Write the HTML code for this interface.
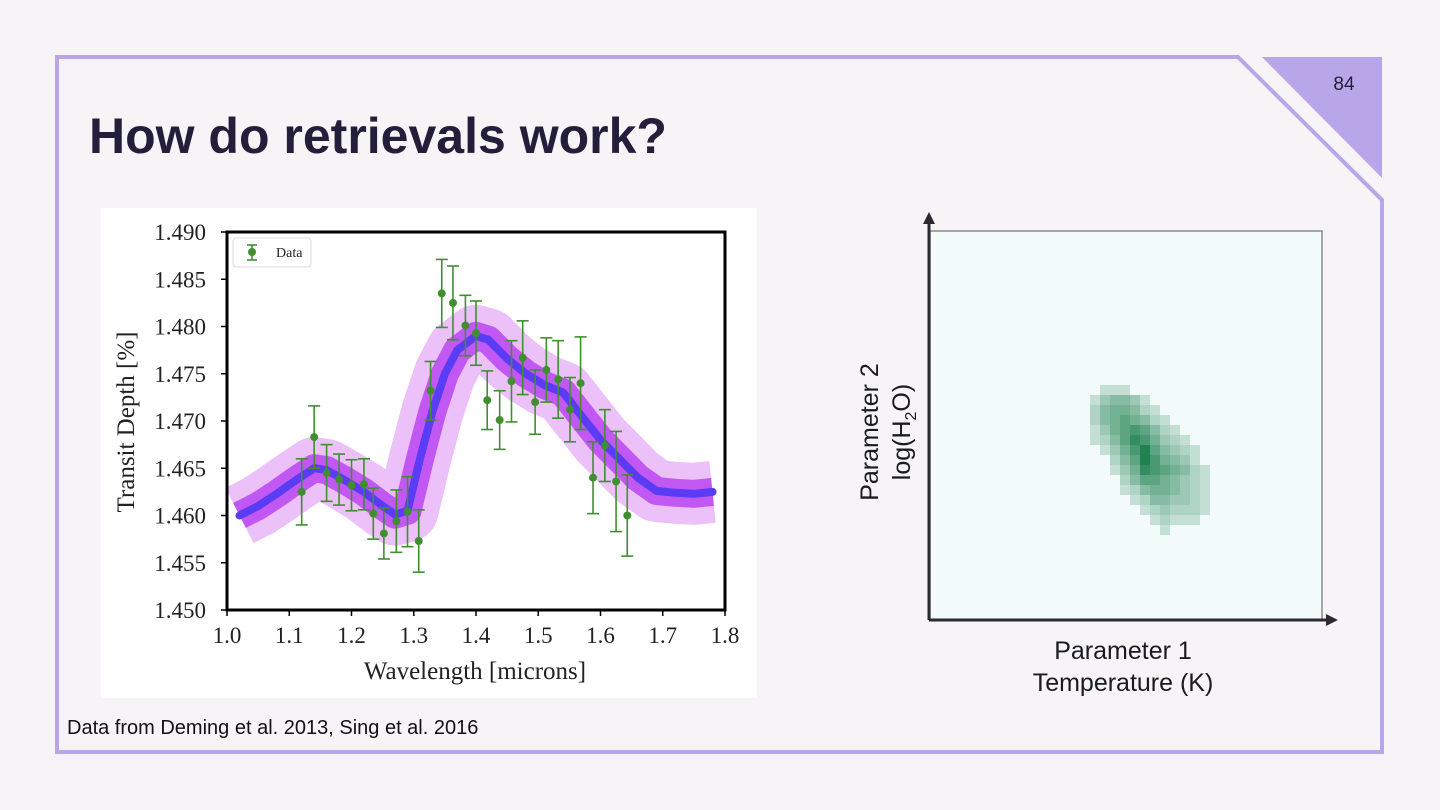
<!DOCTYPE html>
<html><head><meta charset="utf-8"><style>
body{margin:0;width:1440px;height:810px;background:#f6f4f7;overflow:hidden;position:relative;font-family:"Liberation Sans",sans-serif}
.abs{position:absolute}
</style></head><body>
<svg class="abs" style="left:0;top:0" width="1440" height="810">
<path d="M57,57 L1238,57 L1382,200 L1382,752 L57,752 Z" fill="#f6f4f7" stroke="#b9a6e8" stroke-width="4"/>
<path d="M1262,57 L1382,57 L1382,178 Z" fill="#b9a6e8"/>
<text x="1344" y="90" font-size="19" fill="#231f3a" text-anchor="middle" font-family="Liberation Sans">84</text>
</svg>
<div class="abs" style="left:89px;top:107px;font-size:50px;font-weight:bold;color:#231f3a">How do retrievals work?</div>
<div class="abs" style="left:67px;top:717px;font-size:20px;color:#111">Data from Deming et al. 2013, Sing et al. 2016</div>

<svg id="chart" class="abs" style="left:0;top:0" width="1440" height="810"></svg>

<script>
const tickX=[1.0,1.1,1.2,1.3,1.4,1.5,1.6,1.7,1.8];
const tickY=[1.450,1.455,1.460,1.465,1.470,1.475,1.480,1.485,1.490];
const dataX=[1.12,1.14,1.16,1.18,1.20,1.22,1.235,1.252,1.272,1.29,1.308,1.327,1.345,1.363,1.383,1.40,1.418,1.438,1.457,1.475,1.495,1.513,1.532,1.551,1.568,1.588,1.607,1.625,1.643];
const dataY=[1.4625,1.4683,1.4645,1.4638,1.4632,1.4633,1.4602,1.4581,1.4594,1.4604,1.4573,1.4732,1.4835,1.4825,1.4801,1.4793,1.4722,1.4701,1.4742,1.4767,1.4720,1.4754,1.4744,1.4712,1.4740,1.4640,1.4674,1.4636,1.4600];
const dataErr=[0.0035,0.0033,0.003,0.0027,0.0027,0.0027,0.0027,0.0027,0.0033,0.0037,0.0033,0.0031,0.0036,0.0039,0.0032,0.0034,0.0031,0.0031,0.0043,0.0039,0.0034,0.0034,0.0041,0.0034,0.0049,0.0038,0.0038,0.0053,0.0043];
const modelX=[1.02,1.05,1.08,1.11,1.14,1.16,1.19,1.22,1.25,1.27,1.29,1.31,1.33,1.35,1.37,1.40,1.42,1.45,1.48,1.51,1.54,1.57,1.60,1.63,1.66,1.69,1.72,1.75,1.78];
const modelY=[1.4600,1.4610,1.4623,1.4637,1.4650,1.4648,1.4637,1.4625,1.4610,1.4601,1.4605,1.4660,1.4710,1.4750,1.4775,1.4790,1.4786,1.4766,1.4750,1.4738,1.4730,1.4705,1.4680,1.4660,1.4640,1.4626,1.4624,1.4623,1.4625];
const heatRows=[
"0011100000000000",
"0134431000000000",
"0245542100000000",
"0245654210000000",
"0135676421000000",
"0124687532100000",
"0013579643210000",
"0002469754310000",
"0001358765421000",
"0000246654321000",
"0000124554321000",
"0000012443321000",
"0000001232221000",
"0000000121110000",
"0000000010000000"];

const NS="http://www.w3.org/2000/svg";
const svg=document.getElementById('chart');
function mk(tag,attrs,parent){const e=document.createElementNS(NS,tag);for(const k in attrs)e.setAttribute(k,attrs[k]);(parent||svg).appendChild(e);return e;}
const PL=227,PR=725,PT=232,PB=610;
const sx=v=>PL+(v-1.0)/(1.8-1.0)*(PR-PL);
const sy=v=>PB-(v-1.45)/(1.49-1.45)*(PB-PT);

let r=mk('rect',{x:101,y:208,width:656,height:490,fill:'#fff'});



let d=modelX.map((x,i)=>(i?'L':'M')+sx(x).toFixed(1)+','+sy(modelY[i]).toFixed(1)).join(' ');
let outer=mk('path',{d:d,fill:'none',stroke:'#ecc0f9',"stroke-width":62,"stroke-linecap":"butt","stroke-linejoin":"round"});


let inner=mk('path',{d:d,fill:'none',stroke:'#bb45f2',"stroke-width":28,"stroke-linecap":"butt","stroke-linejoin":"round",opacity:0.85});


let line=mk('path',{d:d,fill:'none',stroke:'#5a3cf5',"stroke-width":8,"stroke-linecap":"round","stroke-linejoin":"round"});



dataX.forEach((x,i)=>{
  const g=mk('g',{stroke:'#3f8f2f',"stroke-width":1.6});
  
  
  const X=sx(x),y1=sy(dataY[i]+dataErr[i]),y2=sy(dataY[i]-dataErr[i]);
  mk('line',{x1:X,x2:X,y1:y1,y2:y2},g);
  mk('line',{x1:X-6,x2:X+6,y1:y1,y2:y1},g);
  mk('line',{x1:X-6,x2:X+6,y1:y2,y2:y2},g);
  mk('circle',{cx:X,cy:sy(dataY[i]),r:4,fill:'#3f8f2f',stroke:'none'},g);
});

let fr=mk('rect',{x:PL,y:PT,width:PR-PL,height:PB-PT,fill:'none',stroke:'#000',"stroke-width":3});



tickX.forEach(v=>{
  const X=sx(v);
  mk('line',{x1:X,x2:X,y1:PB,y2:PB+6,stroke:'#000',"stroke-width":1.5});
  const t=mk('text',{x:X,y:PB+33,"font-size":23,"font-family":"Liberation Serif","text-anchor":"middle",fill:'#222'});
  t.textContent=v.toFixed(1);
  
  
});
tickY.forEach(v=>{
  const Y=sy(v);
  mk('line',{x1:PL-6,x2:PL,y1:Y,y2:Y,stroke:'#000',"stroke-width":1.5});
  const t=mk('text',{x:PL-21,y:Y+8,"font-size":23,"font-family":"Liberation Serif","text-anchor":"end",fill:'#222'});
  t.textContent=v.toFixed(3);
  
  
});
let xt=mk('text',{x:475,y:679,"font-size":25,"font-family":"Liberation Serif","text-anchor":"middle",fill:'#222'});
xt.textContent='Wavelength [microns]';


let yt=mk('text',{x:0,y:0,"font-size":25,"font-family":"Liberation Serif","text-anchor":"middle",fill:'#222',transform:'translate(134,422) rotate(-90)'});
yt.textContent='Transit Depth [%]';



const lg=mk('g',{});


mk('rect',{x:233,y:238,width:78,height:29,rx:3,fill:'#fff',stroke:'#ddd'},lg);
mk('line',{x1:252,x2:252,y1:245,y2:260,stroke:'#3f8f2f',"stroke-width":1.6},lg);
mk('line',{x1:247,x2:257,y1:245,y2:245,stroke:'#3f8f2f',"stroke-width":1.6},lg);
mk('line',{x1:247,x2:257,y1:260,y2:260,stroke:'#3f8f2f',"stroke-width":1.6},lg);
mk('circle',{cx:252,cy:252,r:4,fill:'#3f8f2f'},lg);
const lt=mk('text',{x:276,y:257,"font-size":14,"font-family":"Liberation Serif",fill:'#222'},lg);
lt.textContent='Data';

// heatmap
let hb=mk('rect',{x:930,y:231,width:392,height:389,fill:'#f3fbfa',stroke:'#8a8a8a',"stroke-width":1.5});


const HX=1080,HY=385,C=10;
heatRows.forEach((row,ri)=>{
  [...row].forEach((ch,ci)=>{
    const v=+ch; if(!v) return;
    const c=mk('rect',{x:HX+ci*C,y:HY+ri*C,width:C,height:C,fill:'rgb(25,125,75)',opacity:(0.12+v/9*0.85).toFixed(2)});
    
    
  });
});
const ax=mk('g',{stroke:'#2a2a33',"stroke-width":3,fill:'#2a2a33'});


mk('line',{x1:929,y1:620,x2:929,y2:222},ax);
mk('path',{d:'M923,224 L929,212 L935,224 Z',stroke:'none'},ax);
mk('line',{x1:929,y1:620,x2:1328,y2:620},ax);
mk('path',{d:'M1326,614 L1338,620 L1326,626 Z',stroke:'none'},ax);
function txt(s,x,y,name,tr){const t=mk('text',{x:x,y:y,"font-size":25,"text-anchor":"middle",fill:'#1a1a22',"font-family":"Liberation Sans"});if(tr)t.setAttribute('transform',tr);t.textContent=s;return t;}
txt('Parameter 1',1123,659,'x-param-name');
txt('Temperature (K)',1123,691,'x-param-unit');
txt('Parameter 2',0,0,'y-param-name','translate(878,432) rotate(-90)');
const t2=txt('',0,0,'y-param-unit','translate(910,432) rotate(-90)');
t2.innerHTML='log(H<tspan font-size="16" dy="6">2</tspan><tspan dy="-6">O)</tspan>';
</script>
</body></html>
